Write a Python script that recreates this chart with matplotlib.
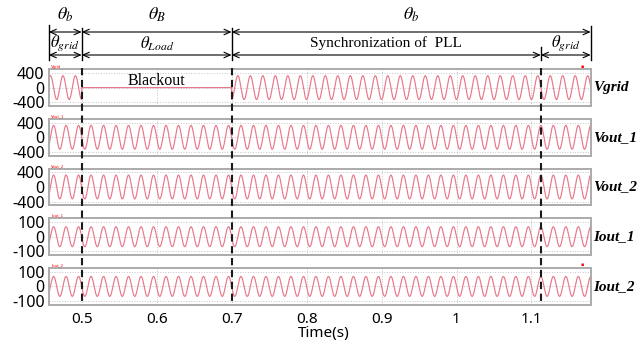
import numpy as np
import matplotlib
matplotlib.use("Agg")
import matplotlib.pyplot as plt
from matplotlib.lines import Line2D
from matplotlib.transforms import blended_transform_factory

# ---------------- data ----------------
t_start, t_end = 0.456, 1.179          # visible time window (s)
grid_freq = 60.0                        # Hz
event_times = [0.5, 0.7, 1.1125]        # blackout start, grid return, PLL synced
blackout = (0.5, 0.7)

signal_names = ["Vgrid", "Vout_1", "Vout_2", "Iout_1", "Iout_2"]
amplitudes = [325, 325, 325, 68, 68]
phase_shift = [-90, 180, 180, 180, 180]   # degrees (sine phase)
y_limits = [500, 500, 500, 125, 125]
y_ticks = [[-400, 0, 400]] * 3 + [[-100, 0, 100]] * 2
x_ticks = [0.5, 0.6, 0.7, 0.8, 0.9, 1.0, 1.1]
x_ticklabels = ["0.5", "0.6", "0.7", "0.8", "0.9", "1", "1.1"]

top_spans = [(t_start, 0.5, r"$\theta_b$"), (0.5, 0.7, r"$\theta_B$"), (0.7, t_end, r"$\theta_b$")]
bottom_spans = [(t_start, 0.5, r"$\theta_{grid}$"), (0.5, 0.7, r"$\theta_{Load}$"),
                (0.7, 1.1125, "Synchronization of  PLL"), (1.1125, t_end, r"$\theta_{grid}$")]

# ---------------- style ----------------
plt.rcParams["mathtext.fontset"] = "stix"
W, H = 643, 344
fig = plt.figure(figsize=(W / 100, H / 100), dpi=100)

def fy(px):
    return 1 - px / H

line_color = "#e8788a"
spine_color = "#ababab"
left_px, right_px = 48.7, 590.7
panel_top0, panel_step, panel_h = 69.3, 49.7, 36.6

t = np.linspace(t_start, t_end, 6000)
axes = []
for i, name in enumerate(signal_names):
    top = panel_top0 + panel_step * i
    ax = fig.add_axes([left_px / W, fy(top + panel_h), (right_px - left_px) / W, panel_h / H])
    axes.append(ax)
    y = amplitudes[i] * np.sin(2 * np.pi * grid_freq * t + np.deg2rad(phase_shift[i]))
    if name == "Vgrid":
        y = np.where((t > blackout[0]) & (t < blackout[1]), 0.0, y)
    ax.plot(t, y, color=line_color, lw=0.85)
    ax.set_xlim(t_start, t_end)
    ax.set_ylim(-y_limits[i], y_limits[i])
    ax.set_yticks(y_ticks[i])
    ax.set_yticklabels([str(v) for v in y_ticks[i]], family="Noto Sans", fontsize=11.5)
    ax.set_xticks(x_ticks)
    if i == len(signal_names) - 1:
        ax.set_xticklabels(x_ticklabels, family="Noto Sans", fontsize=11)
    else:
        ax.set_xticklabels([])
    ax.tick_params(length=0, pad=3)
    ax.tick_params(axis="x", pad=5)
    ax.grid(True, linestyle=":", color="#c4c4c4", lw=0.7)
    for s in ax.spines.values():
        s.set_color(spine_color)
        s.set_linewidth(1.4)
    ax.text(0.005, 1.02, name, transform=ax.transAxes, fontsize=2.8, color="red",
            va="bottom", ha="left")
    fig.text(593 / W, fy(top + panel_h / 2), name, family="Liberation Serif",
             fontsize=11, fontweight="bold", style="italic", va="center", ha="left")

axes[0].text(0.6, 60, "Blackout", family="Liberation Serif",
             fontsize=11.5, ha="center", va="baseline")
for a in (axes[0], axes[-1]):
    a.text(0.985, 1.02, "▪", transform=a.transAxes, fontsize=3.5, color="red",
           ha="center", va="bottom")

fig.text(324 / W, fy(334), "Time(s)", family="Noto Sans", fontsize=11,
         ha="center", va="center")

# ---------------- annotations ----------------
trans = blended_transform_factory(axes[0].transData, fig.transFigure)

# dashed event lines through all panels
for ev in event_times:
    fig.add_artist(Line2D([ev, ev], [fy(68), fy(303)], transform=trans, color="#1a1a1a",
                          lw=1.5, linestyle=(0, (3.5, 2.2))))

# solid vertical boundary lines above the panels
vlines = [(t_start, 25, 60), (0.5, 28, 60), (0.7, 28, 60), (1.1125, 47, 60), (t_end, 26, 60)]
for x, y0, y1 in vlines:
    fig.add_artist(Line2D([x, x], [fy(y0), fy(y1)], transform=trans, color="black", lw=1.0))

arrow_kw = dict(arrowstyle="<->,head_length=0.5,head_width=0.22", lw=0.8, color="black",
                shrinkA=0, shrinkB=0, mutation_scale=9)
for x0, x1, lab in top_spans:
    axes[0].annotate("", xy=(x1, fy(32)), xytext=(x0, fy(32)), xycoords=trans,
                     textcoords=trans, arrowprops=arrow_kw, annotation_clip=False)
    fig.text((x0 + x1) / 2, fy(15), lab, transform=trans, fontsize=13,
             ha="center", va="center")
for x0, x1, lab in bottom_spans:
    axes[0].annotate("", xy=(x1, fy(55)), xytext=(x0, fy(55)), xycoords=trans,
                     textcoords=trans, arrowprops=arrow_kw, annotation_clip=False)
    kw = dict(fontsize=12) if lab.startswith("$") else dict(fontsize=11, family="Liberation Serif")
    fig.text((x0 + x1) / 2, fy(43.5), lab, transform=trans, ha="center", va="center", **kw)

fig.savefig("out.png", dpi=100)
